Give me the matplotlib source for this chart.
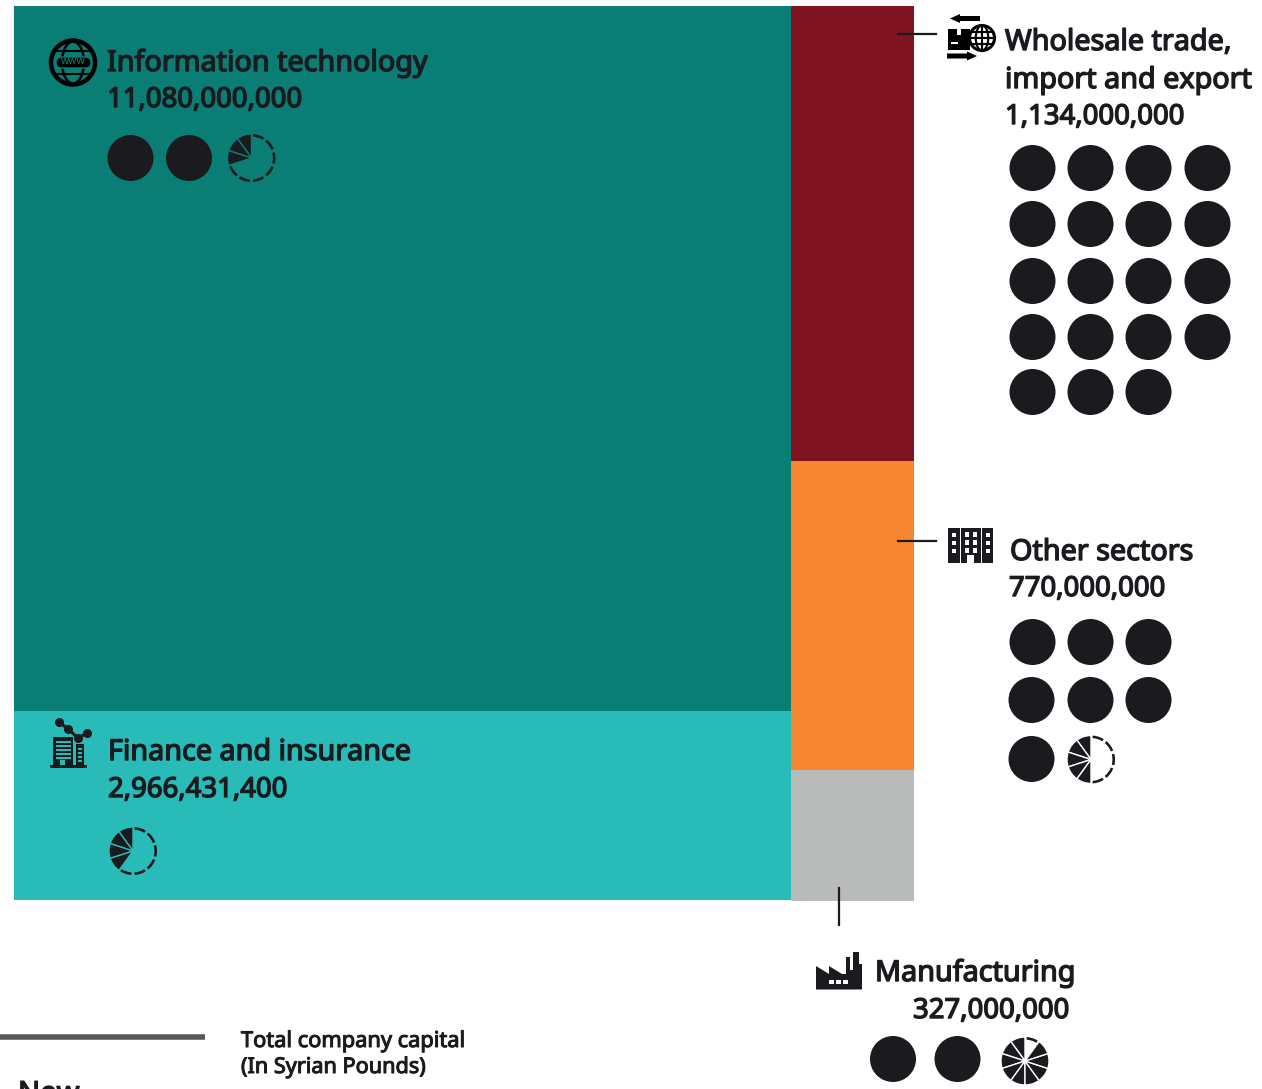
import matplotlib
matplotlib.use("Agg")
import matplotlib.pyplot as plt
import matplotlib.patheffects as pe
from matplotlib.patches import Circle, Wedge, Ellipse, Rectangle, Polygon, FancyBboxPatch

# total capital per sector, syrian pounds
left_sectors = ["Information technology", "Finance and insurance"]
left_capital = [11080000000, 2966431400]
right_sectors = ["Wholesale trade,\nimport and export", "Other sectors", "Manufacturing"]
right_capital = [1134000000, 770000000, 327000000]

# number of companies drawn as dots, tenths shown as pie slices
it_dots = 2.3
finance_dots = 0.4
wholesale_dots = 19
other_dots = 7.5
manufacturing_dots = 2.9

left_colors = ["#0a7e75", "#28bbb7"]
right_colors = ["#7f1420", "#f68631", "#b9bbba"]
INK = "#1a1a1f"

plt.rcParams["font.family"] = ["Noto Sans", "DejaVu Sans"]

fig = plt.figure(figsize=(12.62, 10.89), dpi=100)
ax = fig.add_axes([0, 0, 1, 1])
ax.set_xlim(0, 1262)
ax.set_ylim(1089, 0)
ax.axis("off")

# treemap: two columns, column width and cell height follow the capital
X0, X1, Y0 = 14, 914, 6
total = sum(left_capital) + sum(right_capital)
split = X0 + (X1 - X0) * sum(left_capital) / total


def column(values, colors, x, width, bottom):
    y = Y0
    for v, c in zip(values, colors):
        h = (bottom - Y0) * v / sum(values)
        ax.bar(x, h, width=width, bottom=y, align="edge", color=c, linewidth=0)
        y += h


column(left_capital, left_colors, X0, split - X0, 900)
column(right_capital, right_colors, split, X1 - split, 901)


def fraction_dot(cx, cy, value, r=24, bg="white"):
    # black slices run anticlockwise from 12 o'clock, the rest is a dashed outline
    tenths = round((value % 1) * 10)
    for i in range(10):
        end = 270 - 36 * i
        if i < tenths:
            ax.add_patch(Wedge((cx, cy), r, end - 36, end, fc=INK, ec=bg, lw=1.0, zorder=3))
        else:
            ax.add_patch(Wedge((cx, cy), r, end - 32, end - 4, width=2.6, fc=INK, ec="none", zorder=3))


def dots(xs, ys, value, r=23):
    # whole companies only, row by row
    n = 0
    for y, row in zip(ys, xs):
        for x in row:
            if n < int(value):
                ax.add_patch(Circle((x, y), r, fc=INK, ec="none", zorder=3))
            n += 1


dots([[130.5, 189]], [158], it_dots)
fraction_dot(251.5, 158, it_dots, bg=left_colors[0])
fraction_dot(133, 851, finance_dots, bg=left_colors[1])
wh_x = [1032.5, 1090.5, 1148.5, 1207.5]
dots([wh_x, wh_x, wh_x, wh_x, wh_x], [168, 224, 281, 337, 392], wholesale_dots)
dots([[1032.5, 1090.5, 1148.5], [1031.5, 1090.5, 1148.5], [1031.5]], [642, 700, 759], other_dots)
fraction_dot(1091, 759.5, other_dots)
dots([[893, 957.5]], [1059], manufacturing_dots)
fraction_dot(1025, 1061, manufacturing_dots)

# labels
TITLE = 20.7
VALUE = 19.8


def label(x, y, s, size=TITLE, stroke=1.0):
    ax.text(x, y, s, fontsize=size, color=INK, va="baseline", ha="left", zorder=4, clip_on=False,
            path_effects=[pe.withStroke(linewidth=stroke, foreground=INK)])


label(107, 71, left_sectors[0])
label(107, 107, f"{left_capital[0]:,}", VALUE)
label(108, 760, left_sectors[1])
label(108, 797, f"{left_capital[1]:,}", VALUE)
line1, line2 = right_sectors[0].split("\n")
label(1005, 50, line1)
label(1005, 88, line2)
label(1005, 124, f"{right_capital[0]:,}", VALUE)
label(1010, 560, right_sectors[1])
label(1009, 596, f"{right_capital[1]:,}", VALUE)
label(875, 981, right_sectors[2])
label(913, 1018, f"{right_capital[2]:,}", VALUE)

# leader lines
ax.plot([898, 936], [34, 34], color=INK, lw=1.6, zorder=4)
ax.plot([898, 936], [541, 541], color=INK, lw=1.6, zorder=4)
ax.plot([839, 839], [888, 925], color=INK, lw=1.6, zorder=4)

# scale key at the bottom
ax.plot([0, 205], [1037, 1037], color="#58595b", lw=4, solid_capstyle="butt")
label(241, 1047, "Total company capital", 15.7, 0.75)
label(241, 1073, "(In Syrian Pounds)", 15.6, 0.75)
label(18, 1102, "New", 21)


# sector icons
def globe(cx, cy, r, lw, fg="black"):
    ax.add_patch(Circle((cx, cy), r, fc="none", ec=fg, lw=lw, zorder=5))
    ax.add_patch(Ellipse((cx, cy), r * 1.0, 2 * r, fc="none", ec=fg, lw=lw * 0.7, zorder=5))
    ax.plot([cx - r, cx + r], [cy, cy], color=fg, lw=lw * 0.7, zorder=5)
    ax.plot([cx, cx], [cy - r, cy + r], color=fg, lw=lw * 0.7, zorder=5)
    for dy in (-0.5, 0.5):
        ax.plot([cx - r * 0.85, cx + r * 0.85], [cy + dy * r] * 2, color=fg, lw=lw * 0.7, zorder=5)


def box(x0, y0, x1, y1, c="black", z=5):
    ax.add_patch(Rectangle((x0, y0), x1 - x0, y1 - y0, fc=c, ec="none", zorder=z))


# information technology
ax.add_patch(Circle((73, 62.5), 22, fc="none", ec="black", lw=3.2, zorder=5))
ax.add_patch(Ellipse((73, 62.5), 22, 42, fc="none", ec="black", lw=1.8, zorder=5))
ax.plot([53, 93], [51, 51], color="black", lw=1.5, zorder=5)
ax.plot([53, 93], [74, 74], color="black", lw=1.5, zorder=5)
ax.add_patch(FancyBboxPatch((56, 57), 35, 11, boxstyle="round,pad=0,rounding_size=5.5",
                            fc="black", ec=left_colors[0], lw=1, zorder=6))
ax.text(73.5, 62, "www", fontsize=7.5, color=left_colors[0], ha="center", va="center", zorder=7)

# finance: buildings under a line chart
box(50, 765, 87, 768, INK)
box(53, 737, 73, 765, INK)
box(76, 744, 84, 765, INK)
for y in range(741, 759, 4):
    box(56, y, 71, y + 1.5, left_colors[1], 6)
for y in range(748, 762, 4):
    box(78, y, 82, y + 1.5, left_colors[1], 6)
box(60, 760, 65, 765, left_colors[1], 6)
line_x, line_y = [59, 68, 78, 87], [722, 729, 738, 733]
ax.plot(line_x, line_y, color=INK, lw=2.2, zorder=6, marker="o", ms=5.5)

# wholesale: parcel, globe and two arrows
box(948, 29, 970, 50)
box(951, 42, 958, 44, "white", 6)
box(957, 29, 961, 35, "white", 6)
globe(982, 38, 12.5, 2.2)
ax.add_patch(Polygon([[950, 18.5], [960, 14], [960, 16], [980, 16], [980, 21], [960, 21], [960, 23]],
                     fc="black", ec="none", zorder=5))
ax.add_patch(Polygon([[977, 56], [967, 51.5], [967, 53.5], [947, 53.5], [947, 58.5], [967, 58.5], [967, 60.5]],
                     fc="black", ec="none", zorder=5))

# other sectors: block of three towers
box(948, 528, 959.5, 563, INK)
box(960.5, 528, 980.5, 563, INK)
box(981.5, 528, 992.5, 563, INK)
for y in (533, 541, 549):
    for x in (952, 985.5):
        box(x, y, x + 4, y + 4, "white", 6)
    for x in (964.5, 972.5):
        box(x, y - 1, x + 4.5, y + 4, "white", 6)
box(967, 555, 974, 563, "white", 6)

# manufacturing: factory outline
ax.add_patch(Polygon([[816, 966], [829, 974], [829, 966], [842, 974], [846, 974], [846, 957], [850, 957],
                      [850, 970], [853, 970], [853, 952], [859, 952], [859, 964], [862, 964], [862, 989.5],
                      [816, 989.5]], fc=INK, ec="none", zorder=5))
for x in (829, 836, 843):
    box(x, 980, x + 5, 984, "white", 6)

fig.savefig("out.png", dpi=100)
